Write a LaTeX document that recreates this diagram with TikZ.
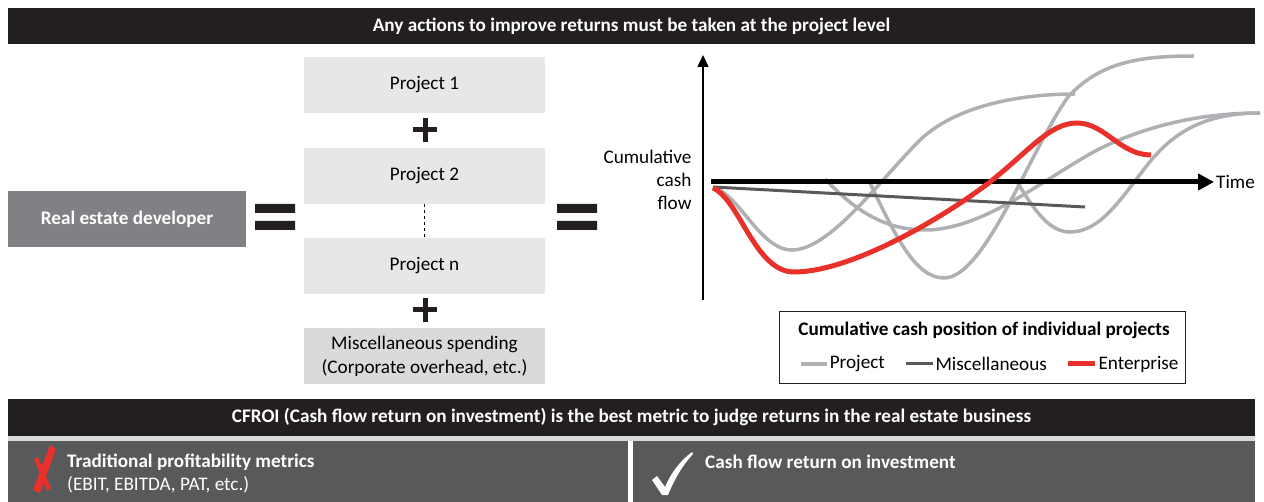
\documentclass[tikz,border=0pt]{standalone}
\usepackage{fontspec}
\setmainfont{Carlito}
\usetikzlibrary{positioning}
\usetikzlibrary{arrows.meta}

\definecolor{banner}{HTML}{231F20}
\definecolor{devgrey}{HTML}{808184}
\definecolor{boxgrey}{HTML}{E6E7E8}
\definecolor{miscgrey}{HTML}{D9DADB}
\definecolor{panelgrey}{HTML}{58595B}
\definecolor{curvegrey}{HTML}{AFB0B3}
\definecolor{enterprisered}{HTML}{E8312A}

\begin{document}
\begin{tikzpicture}
[x=1pt,y=-1pt,
 bar/.style={shape=rectangle,fill=banner,text=white,font=\fontsize{19.2}{22}\selectfont\bfseries,
   minimum width=1247,inner sep=0},
 project/.style={shape=rectangle,fill=boxgrey,minimum width=241,minimum height=56,inner sep=0,
   font=\fontsize{19.2}{22}\selectfont},
 misc/.style={project,fill=miscgrey,align=center,font=\fontsize{19.2}{24}\selectfont},
 dev/.style={shape=rectangle,fill=devgrey,text=white,minimum width=238,minimum height=56,
   font=\fontsize{19.2}{22}\selectfont\bfseries},
 panel/.style={shape=rectangle,fill=panelgrey,minimum height=61,inner sep=0},
 eqbar/.style={fill=banner},
 plus/.style={draw=banner,line width=5},
 proj/.style={draw=curvegrey,line width=3.5},
 miscline/.style={draw=panelgrey,line width=3},
 ent/.style={draw=enterprisered,line width=5},
 lbl/.style={font=\fontsize{19.2}{23}\selectfont}]

\useasboundingbox (0,0) rectangle (1264,502);

\node (top) [bar,minimum height=36] at (631.5,26) {Any actions to improve returns must be taken at the project level};

\node (dev) [dev] at (127,219) {Real estate developer};

\node (p1) [project] at (424.5,85) {Project 1};
\node (p2) [project] at (424.5,176) {Project 2};
\node (pn) [project] at (424.5,266) {Project n};
\node (mi) [misc] at (424.5,356) {Miscellaneous spending\\(Corporate overhead, etc.)};

\draw [dashed,thick] (p2.south) -- (pn.north);

\draw [plus] (413,130) -- (437,130) (425,118) -- (425,142);
\draw [plus] (413,310) -- (437,310) (425,298) -- (425,322);

\fill [eqbar] (255,204) rectangle (295,213) (255,221) rectangle (295,230);
\fill [eqbar] (557,204) rectangle (597,213) (557,221) rectangle (597,230);

\coordinate (origin) at (703,300);
\coordinate (ytop) at (703,55);
\draw [line width=1.5,-{Triangle[length=12,width=11]}] (origin) -- (ytop);

\node (ylab) [lbl,align=right,anchor=east] at (695,180) {Cumulative\\cash\\flow};

\draw [proj] (713,187) .. controls (740,195) and (760,250) .. (792,250)
	.. controls (830,250) and (880,180) .. (920,140)
	.. controls (960,102) and (1030,94) .. (1075,94);
\draw [proj] (825,179) .. controls (850,205) and (880,230) .. (925,230)
	.. controls (990,230) and (1060,165) .. (1112,143)
	.. controls (1160,122) and (1210,113) .. (1260,113);
\draw [proj] (870,183) .. controls (895,235) and (915,278) .. (944,278)
	.. controls (985,278) and (1030,150) .. (1068,97)
	.. controls (1100,62) and (1140,56) .. (1194,56);
\draw [proj] (1016,180) .. controls (1035,212) and (1050,232) .. (1070,232)
	.. controls (1100,232) and (1120,200) .. (1145,168)
	.. controls (1172,132) and (1205,113) .. (1260,113);

\coordinate (mstart) at (713,187);
\coordinate (mend) at (1085,207);
\draw [miscline] (mstart) -- (mend);

\coordinate (tstart) at (711,182);
\node (time) [lbl,anchor=west,inner sep=2] at (1214,182) {Time};
\draw [line width=5,-{Triangle[length=16,width=16]}] (tstart) -- (time.west);

\draw [ent] (713,188) .. controls (740,200) and (755,272) .. (794,272)
	.. controls (850,272) and (940,220) .. (990,182)
	.. controls (1030,150) and (1050,123) .. (1077,123)
	.. controls (1105,123) and (1120,155) .. (1151,155);

\node (legend) [draw=banner,thick,minimum width=406,minimum height=72] at (982,347) {};
\node (legtitle) [lbl,font=\fontsize{19.2}{23}\selectfont\bfseries] at (984,330)
	{Cumulative cash position of individual projects};
\draw [proj] (801,364) -- (827,364) node (lp) [lbl,right,inner sep=1] {Project};
\draw [miscline] (906,364) -- (933,364) node (lm) [lbl,right,inner sep=1] {Miscellaneous};
\draw [ent] (1068,364) -- (1095,364) node (le) [lbl,right,inner sep=1] {Enterprise};

\node (bottom) [bar,minimum height=37] at (631.5,417.5)
	{CFROI (Cash flow return on investment) is the best metric to judge returns in the real estate business};

\fill [black!15] (8,436) rectangle (1255,441);
\node (left) [panel,minimum width=620] at (318,471.5) {};
\node (right) [panel,minimum width=622] at (944,471.5) {};

\fill [enterprisered] (50,445) -- (56,449) -- (40,493) -- (33,490) -- cycle;
\fill [enterprisered] (34,459) -- (38,457) -- (51,488) -- (47,491) -- cycle;
\fill [white] (652,480) -- (657,476) -- (665,487) .. controls (671,473) and (680,461) .. (692,452)
	-- (693,454) .. controls (682,466) and (674,480) .. (668,495) -- (662,495) -- cycle;

\node (trad) [anchor=west,text=white,font=\fontsize{19.2}{22}\selectfont\bfseries,inner sep=0] at (67,462)
	{Traditional profitability metrics};
\node (tradsub) [anchor=west,text=white,font=\fontsize{19.2}{22}\selectfont,inner sep=0] at (67,485)
	{(EBIT, EBITDA, PAT, etc.)};
\node (cfroi) [anchor=west,text=white,font=\fontsize{19.2}{22}\selectfont\bfseries,inner sep=0] at (705,462)
	{Cash flow return on investment};

\end{tikzpicture}
\end{document}
